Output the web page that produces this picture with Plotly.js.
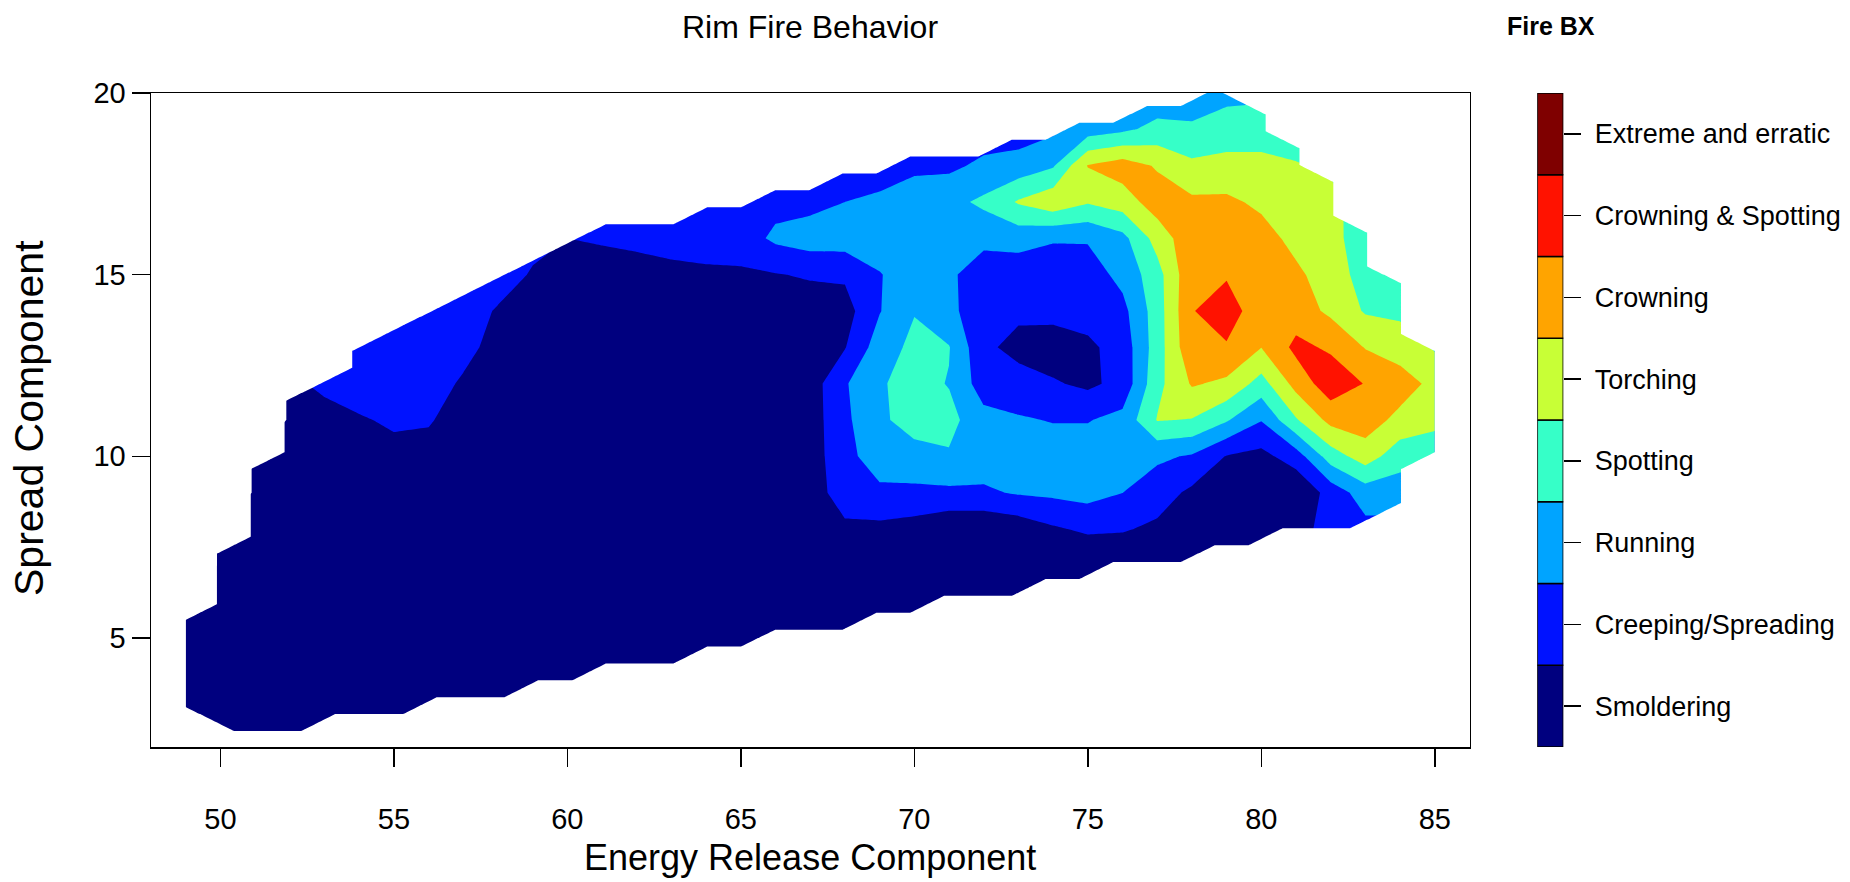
<!DOCTYPE html>
<html>
<head>
<meta charset="utf-8">
<script src="https://cdn.plot.ly/plotly-3.0.1.min.js"></script>
<style>html,body{margin:0;padding:0;background:#fff;}#chart{width:1850px;height:882px;}</style>
</head>
<body>
<div id="chart"></div>
<script>
// ---------- data ----------
const n = null;
// Energy Release Component grid (x) and Spread Component grid (y)
const ERC = [49,50,51,52,53,54,55,56,57,58,59,60,61,62,63,64,65,66,67,68,69,70,71,72,73,74,75,76,77,78,79,80,81,82,83,84,85];
const SC = [2,3,4,5,6,7,8,9,10,11,12,13,14,15,16,17,18,19,20,21];

// fire behaviour class (1 = Smoldering ... 8 = Extreme), one row per SC value, starting at the given ERC
function span(x0, vals) { const r = ERC.map(() => null); vals.forEach((v, i) => { r[x0 - ERC[0] + i] = v; }); return r; }
const FIRE_BX = [
  span(50, [1,1,1,1,1]),
  span(49, [1,1,1,1,1,1,1,1,1,1,1,1]),
  span(49, [1,1,1,1,1,1,1,1,1,1,1,1,1,1,1,1,1]),
  span(49, [1,1,1,1,1,1,1,1,1,1,1,1,1,1,1,1,1,1,1,1,1,1]),
  span(49, [1,1,1,1,1,1,1,1,1,1,1,1,1,1,1,1,1,1,1,1,1,1,1,1,1,1,1,1]),
  span(50, [1,1,1,1,1,1,1,1,1,1,1,1,1,1,1,1,1,1,1,1,1,1,1,1,1, 0.5,0.67, 1,1,1,1,1, 1.4]),
  span(50, [1,1,1,1,1,1,1,1,1,1,1,1,1,1,1,1,1,1, 1.3,1.26,1.07,0.7,0.65,0.88,1.37,1.68,1.59,1.31,1.0,1.0,1.0,1.2,1.8,2.2,2.2]),
  span(51, [1,1,1,1,1,1,1,1,1,1,1,1,1,1,1,1,1, 2.0,2.3,2.3,2.3,2.35,2.6,2.7,2.85,2.51,1.95,1.3,1.0,1.0,0.6,1.9,3.0,3.0,3.0]),
  span(51, [1,1,1,1, 1.2,1.1, 1,1,1,1,1,1,1,1,1,1,1, 2.2,3.0,3.1,3.4,3.0,3.0,3.0,3.0,3.3,2.68,2.4,1.45,1.2,2.0,4.0,5.0,3.9,3.8]),
  span(52, [1,1,1.4,1.65,1.6, 1,1,1,1,1,1,1,1,1,1,1, 2.3,3.3,3.95,3.8,2.85,2.6,2.45,2.45,2.8,4.55,4.45,3.6,2.55,4.4,5.8,6.0,5.2,4.8]),
  span(52, [1.2,1.79,2.0,2.0,2.0,1.35, 1,1,1,1,1,1,1,1,1,1, 2.4,3.4,3.85,3.45,2.0,1.9,1.6,1.3,1.8,4.2,5.6,5.3,4.1,5.85,7.1,6.45,6.0,5.2]),
  span(53, [2.2,2.2,2.1,2.0,1.85,1.1, 1,1,1,1,1,1,1,1,1, 1.45,3.0,3.75,3.55,1.7,1.2,1.0,1.3,1.9,4.0,6.3,6.4,5.52,6.75,6.35,5.45,5.0,4.4]),
  span(55, [2.2,2.1,2.0,1.4, 1,1,1,1,1,1,1,1,1, 1.1,2.45,3.45,2.7,2.0,1.7,1.8,1.9,2.2,4.0,6.45,7.0,5.9,6.0,5.3,4.4,4.3,4.0]),
  span(57, [2.1,2.0,1.4,1.1,1.3,1.25,1.25,1.3,1.35,1.45,1.6,1.65,2.45,3.0,2.7,1.9,1.9,1.9,2.0,2.8,4.1,6.3,6.4,6.2,5.7,5.0,4.1,4.0]),
  span(59, [1.8,1.5,1.55,1.65,1.85,2.0,2.0,2.7,3.0,3.0,3.0,3.1,3.3,2.8,2.9,2.6,2.6,3.2,4.9,6.2,6.2,5.9,5.2,4.8,4.0,3.8]),
  span(61, [2.0,2.0,2.0,2.1,2.2,2.2,2.2,2.5,2.7,3.0,3.2,3.7,4.6,5.2,4.6,5.0,6.0,5.7,5.7,5.3,5.0,4.9,3.8]),
  span(65, [2.2,2.0,2.0,2.0,2.0,2.3,2.3,2.7,2.9,3.4,5.55,6.0,5.4,4.7,4.8,4.8,4.6,4.3]),
  span(70, [2.0,2.0,2.0,2.0,2.3,3.0,3.3,3.8,3.7,4.0,4.0,3.8]),
  span(74, [2.0,2.3,2.5,2.8,2.8,3.2,3.3]),
  span(78, [2.6,2.8,2.8])
];

// outline of the observed (ERC, SC) region
const HULL_ERC = [48.9, 49.8, 51.9, 84.05, 84.05, 85.0, 85.0, 84.5, 83.55, 82.55, 81.6, 80.6, 79.65, 78.7, 77.7, 76.7, 59.8, 52.3, 48.9];
const HULL_SC  = [3.3, 2.42, 2.42, 8.45, 9.86, 10.3, 13.1, 13.2, 15.0, 16.3, 17.6, 18.5, 19.5, 19.95, 19.55, 19.45, 15.9, 11.85, 4.6];

const CATEGORIES = ['Smoldering','Creeping/Spreading','Running','Spotting','Torching','Crowning','Crowning & Spotting','Extreme and erratic'];
const COLORS = ['#00007F','#0012FF','#00A4FF','#36FFC8','#C8FF36','#FFA400','#FF1200','#7F0000'];
const X_TICKS = [50,55,60,65,70,75,80,85];
const Y_TICKS = [5,10,15,20];

// ---------- mask of the un-sampled area (interpolation grid cells) ----------
function insideHull(px, py) {
  let inside = false;
  for (let i = 0, j = HULL_ERC.length - 1; i < HULL_ERC.length; j = i++) {
    const xi = HULL_ERC[i], yi = HULL_SC[i], xj = HULL_ERC[j], yj = HULL_SC[j];
    if (((yi > py) !== (yj > py)) && (px < (xj - xi) * (py - yi) / (yj - yi) + xi)) inside = !inside;
  }
  return inside;
}
const gx0 = 48.925, gdx = 0.975, gy0 = 2.44, gdy = 0.465;
const maskX = [], maskY = [];
for (let k = -1; k <= 39; k++) maskX.push(gx0 - gdx / 2 + gdx * k);
for (let j = -1; j <= 40; j++) maskY.push(gy0 - gdy / 2 + gdy * j);
const maskZ = maskY.map(y => maskX.map(x => insideHull(x, y) ? 0 : 1));

// ---------- traces ----------
const FONT = 'Liberation Sans, Arial, Helvetica, sans-serif';
const contourTrace = {
  type: 'contour', x: ERC, y: SC, z: FIRE_BX,
  autocontour: false,
  contours: {start: 1.5, end: 7.5, size: 1, coloring: 'fill', showlines: false},
  colorscale: COLORS.map((c, i) => [i / (COLORS.length - 1), c]),
  line: {width: 0, smoothing: 0},
  showscale: false, hoverinfo: 'skip'
};
const maskTrace = {
  type: 'contour', x: maskX, y: maskY, z: maskZ,
  autocontour: false,
  contours: {start: 0.5, end: 0.5, size: 1, coloring: 'fill', showlines: false},
  colorscale: [[0, 'rgba(255,255,255,0)'], [1, '#ffffff']],
  line: {width: 0, smoothing: 0},
  showscale: false, hoverinfo: 'skip'
};
const legendTrace = {
  type: 'bar', xaxis: 'x2', yaxis: 'y2',
  x: CATEGORIES.map(() => 0), y: CATEGORIES.map(() => 1), base: CATEGORIES.map((_, i) => i),
  width: 1, marker: {color: COLORS, line: {color: '#000', width: 1.5}},
  hoverinfo: 'skip', cliponaxis: false
};

const W = 1850, H = 882, L = 151, R = 0, T = 93, B = 135;
const pw = W - L - R, ph = H - T - B;
const px2paper = X => (X - L) / pw;
const py2paper = Y => (H - B - Y) / ph;

const axisCommon = {
  showline: true, mirror: true, linecolor: '#000', linewidth: 1.5,
  ticks: 'outside', ticklen: 18, tickwidth: 1.5, tickcolor: '#000',
  showgrid: false, zeroline: false,
  tickfont: {family: FONT, size: 29, color: '#000'}
};

const layout = {
  width: W, height: H,
  margin: {l: L, r: R, t: T, b: B, pad: 0},
  paper_bgcolor: '#fff', plot_bgcolor: '#fff',
  showlegend: false, barmode: 'overlay',
  font: {family: FONT, color: '#000'},
  title: {text: 'Rim Fire Behavior', font: {family: FONT, size: 32, color: '#000'},
          x: px2paper(810), xref: 'paper', xanchor: 'center', y: 1 - 27 / H, yref: 'container', yanchor: 'middle'},
  xaxis: Object.assign({}, axisCommon, {domain: [0, px2paper(1469.5)], range: [48, 86], tickvals: X_TICKS, anchor: 'y', ticklabelstandoff: 28}),
  yaxis: Object.assign({}, axisCommon, {domain: [0, 1], range: [2, 20], tickvals: Y_TICKS, anchor: 'x'}),
  xaxis2: {domain: [px2paper(1537.3), px2paper(1563.3)], range: [-0.5, 0.5], anchor: 'y2', visible: false, fixedrange: true},
  yaxis2: {domain: [0, 1], range: [0, 8], anchor: 'x2', side: 'right',
           tickvals: CATEGORIES.map((_, i) => i + 0.5), ticktext: CATEGORIES,
           ticks: 'outside', ticklen: 17, tickwidth: 1.5, tickcolor: '#000', ticklabelstandoff: 8,
           showline: false, showgrid: false, zeroline: false,
           tickfont: {family: FONT, size: 27, color: '#000'}},
  annotations: [
    {text: 'Energy Release Component', xref: 'paper', yref: 'paper', x: px2paper(810), y: py2paper(857),
     xanchor: 'center', yanchor: 'middle', showarrow: false, font: {family: FONT, size: 36, color: '#000'}},
    {text: 'Spread Component', xref: 'paper', yref: 'paper', x: px2paper(29), y: py2paper(418), textangle: -90,
     xanchor: 'center', yanchor: 'middle', showarrow: false, font: {family: FONT, size: 41, color: '#000'}},
    {text: '<b>Fire BX</b>', xref: 'paper', yref: 'paper', x: px2paper(1505), y: py2paper(26),
     xanchor: 'left', yanchor: 'middle', showarrow: false, font: {family: FONT, size: 25, color: '#000'}}
  ]
};

Plotly.newPlot('chart', [contourTrace, maskTrace, legendTrace], layout, {staticPlot: true, displayModeBar: false});
</script>
</body>
</html>
